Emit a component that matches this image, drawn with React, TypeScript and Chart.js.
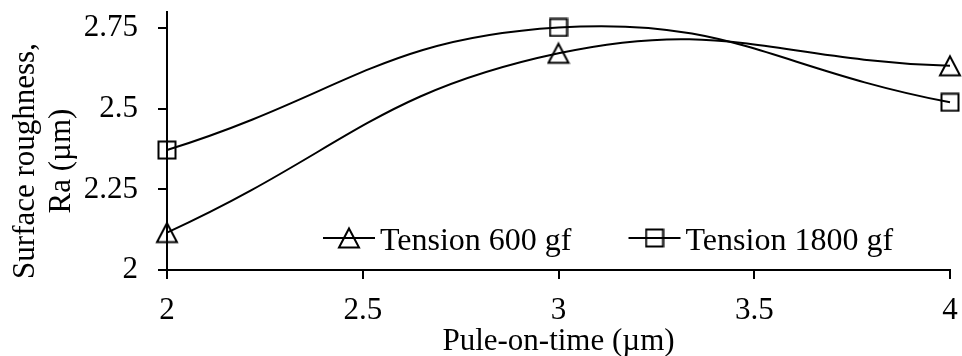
import React, { useEffect, useRef } from 'react';
import { Chart, registerables } from 'chart.js';

Chart.register(...registerables);

// ---- data ----
const xValues = [2, 3, 4];
const tension600 = [2.116, 2.672, 2.633];
const tension1800 = [2.372, 2.752, 2.52];
const seriesLabels = ['Tension 600 gf', 'Tension 1800 gf'];
const xTicks = [2, 2.5, 3, 3.5, 4];
const yTicks = [2, 2.25, 2.5, 2.75];
const xTitle = 'Pule-on-time (\u00b5m)';
const yTitleLines = ['Surface roughness,', 'Ra (\u00b5m)'];

const FONT_FAMILY = '"Liberation Serif", "Times New Roman", serif';
const FONT_SIZE = 31;
const LEGEND_FONT_SIZE = 32;

function makeTriangle(): HTMLCanvasElement {
  const c = document.createElement('canvas');
  c.width = 24;
  c.height = 24;
  const g = c.getContext('2d')!;
  g.strokeStyle = '#000';
  g.lineWidth = 2;
  g.lineJoin = 'miter';
  g.beginPath();
  g.moveTo(12, 2.5);
  g.lineTo(22, 21.5);
  g.lineTo(2, 21.5);
  g.closePath();
  g.stroke();
  return c;
}

function makeSquare(): HTMLCanvasElement {
  const c = document.createElement('canvas');
  c.width = 20;
  c.height = 20;
  const g = c.getContext('2d')!;
  g.strokeStyle = '#000';
  g.lineWidth = 2;
  g.strokeRect(1.5, 1.5, 17, 17);
  return c;
}

export default function App() {
  const ref = useRef<HTMLCanvasElement | null>(null);

  useEffect(() => {
    if (!ref.current) return;
    const tri = makeTriangle();
    const sq = makeSquare();
    const markers = [tri, sq];
    const font = { family: FONT_FAMILY, size: FONT_SIZE };

    const yTitlePlugin = {
      id: 'yTitlePlugin',
      afterDraw(chart: any) {
        const { ctx, chartArea } = chart;
        const cy = (chartArea.top + chartArea.bottom) / 2 + 20;
        ctx.save();
        ctx.font = `${FONT_SIZE}px ${FONT_FAMILY}`;
        ctx.fillStyle = '#000';
        ctx.textAlign = 'center';
        ctx.textBaseline = 'alphabetic';
        const baselines = [34, 70];
        yTitleLines.forEach((line, i) => {
          ctx.save();
          ctx.translate(baselines[i], cy);
          ctx.rotate(-Math.PI / 2);
          ctx.fillText(line, 0, 0);
          ctx.restore();
        });
        ctx.restore();
      },
    };

    const legendPlugin = {
      id: 'inlineLegend',
      afterDraw(chart: any) {
        const { ctx, chartArea } = chart;
        const lineY = chartArea.bottom - 32;
        ctx.save();
        ctx.font = `${LEGEND_FONT_SIZE}px ${FONT_FAMILY}`;
        ctx.fillStyle = '#000';
        ctx.strokeStyle = '#000';
        ctx.lineWidth = 2;
        ctx.textAlign = 'left';
        ctx.textBaseline = 'alphabetic';
        let x = 323;
        chart.data.datasets.forEach((ds: any, i: number) => {
          ctx.beginPath();
          ctx.moveTo(x, lineY);
          ctx.lineTo(x + 52, lineY);
          ctx.stroke();
          const m = markers[i];
          ctx.drawImage(m, x + 26 - m.width / 2, lineY - m.height / 2);
          const tx = x + 57;
          ctx.fillText(ds.label, tx, lineY + 12);
          const w = ctx.measureText(ds.label).width;
          x = tx + w + 57;
        });
        ctx.restore();
      },
    };

    const chart = new Chart(ref.current, {
      type: 'line',
      data: {
        datasets: [
          {
            label: seriesLabels[0],
            data: xValues.map((x, i) => ({ x, y: tension600[i] })),
            borderColor: '#000',
            borderWidth: 2,
            tension: 0.45,
            fill: false,
            pointStyle: tri as any,
            pointRadius: 10,
            clip: false as any,
          },
          {
            label: seriesLabels[1],
            data: xValues.map((x, i) => ({ x, y: tension1800[i] })),
            borderColor: '#000',
            borderWidth: 2,
            tension: 0.45,
            fill: false,
            pointStyle: sq as any,
            pointRadius: 10,
            clip: false as any,
          },
        ],
      },
      options: {
        responsive: false,
        animation: false,
        layout: { padding: { top: 10, right: 11, left: 0, bottom: 0 } },
        plugins: {
          legend: { display: false },
          tooltip: { enabled: false },
        },
        scales: {
          x: {
            type: 'linear',
            min: 2,
            max: 4,
            afterBuildTicks: (s: any) => {
              s.ticks = xTicks.map((v) => ({ value: v }));
            },
            afterFit: (s: any) => {
              s.height = 86;
              s.paddingLeft = 0;
              s.paddingRight = 0;
            },
            ticks: {
              font,
              color: '#000',
              padding: 13,
              maxRotation: 0,
              autoSkip: false,
              callback: (v: any) => String(v),
            },
            grid: {
              drawOnChartArea: false,
              drawTicks: true,
              tickLength: 9,
              color: '#000',
              lineWidth: 2,
            },
            border: { display: true, color: '#000', width: 2 },
            title: {
              display: true,
              text: xTitle,
              font: { ...font, lineHeight: 1 },
              color: '#000',
              padding: { top: 0, bottom: -1 },
            },
          },
          y: {
            type: 'linear',
            min: 2,
            max: 2.8,
            afterBuildTicks: (s: any) => {
              s.ticks = yTicks.map((v) => ({ value: v }));
            },
            afterFit: (s: any) => {
              s.width = 167;
              s.paddingTop = 0;
              s.paddingBottom = 0;
            },
            ticks: {
              font,
              color: '#000',
              padding: 20,
              autoSkip: false,
              callback: (v: any) => String(v),
            },
            grid: {
              drawOnChartArea: false,
              drawTicks: true,
              tickLength: 9,
              color: '#000',
              lineWidth: 2,
            },
            border: { display: true, color: '#000', width: 2 },
          },
        },
      },
      plugins: [yTitlePlugin, legendPlugin],
    } as any);

    return () => chart.destroy();
  }, []);

  return (
    <div style={{ position: 'absolute', left: 0, top: 0, width: 962, height: 356, background: '#fff' }}>
      <canvas ref={ref} width={962} height={356} style={{ width: 962, height: 356, display: 'block' }} />
    </div>
  );
}
